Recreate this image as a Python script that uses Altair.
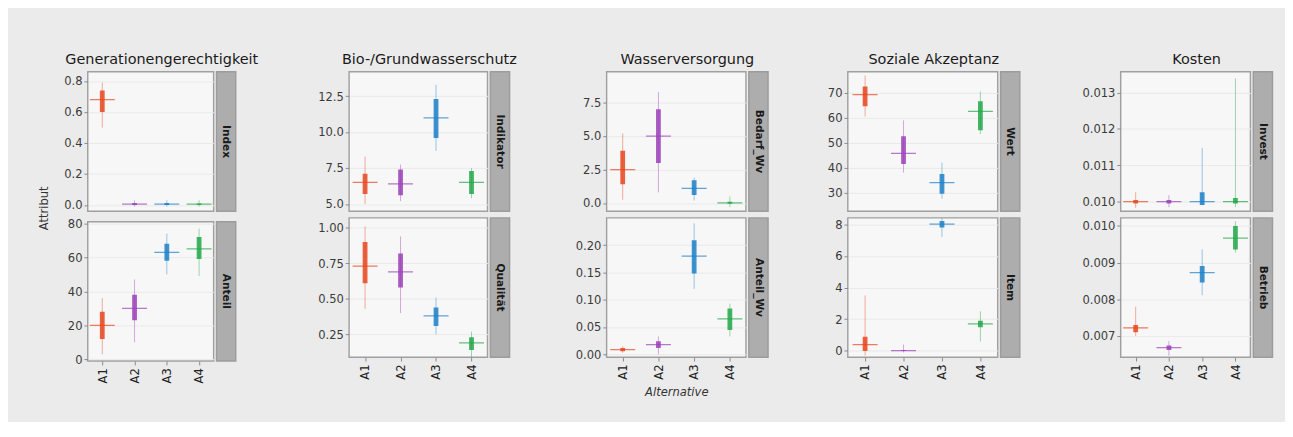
import altair as alt
import pandas as pd

FONT = "DejaVu Sans"

ALTS = ["A1", "A2", "A3", "A4"]
COLORS = ["#e8461e", "#9b40b8", "#1c80c8", "#22a84a"]
STAT_KEYS = ["lo", "q1", "mean", "q3", "hi"]

CRITERIA = ["Generationengerechtigkeit", "Bio-/Grundwasserschutz",
            "Wasserversorgung", "Soziale Akzeptanz", "Kosten"]
ROW_LABELS = [["Index", "Anteil"], ["Indikator", "Qualität"],
              ["Bedarf_Wv", "Anteil_Wv"], ["Wert", "Item"],
              ["Invest", "Betrieb"]]

# per alternative: (lo, q1, mean, q3, hi)
GEN_TOP = [(0.50, 0.60, 0.68, 0.74, 0.79), (-0.01, 0.0, 0.005, 0.012, 0.03),
           (-0.01, 0.0, 0.006, 0.012, 0.03), (-0.01, 0.0, 0.005, 0.01, 0.03)]
GEN_BOT = [(3, 12, 20, 28, 36), (10, 23, 30, 38, 47),
           (50, 58, 63, 68, 74), (49, 59, 65, 72, 77)]
BIO_TOP = [(5.0, 5.7, 6.5, 7.1, 8.3), (5.2, 5.6, 6.4, 7.4, 7.75),
           (8.7, 9.6, 11.0, 12.3, 13.3), (5.4, 5.7, 6.5, 7.3, 7.5)]
BIO_BOT = [(0.43, 0.61, 0.73, 0.90, 1.01), (0.40, 0.58, 0.69, 0.82, 0.94),
           (0.25, 0.31, 0.38, 0.44, 0.51), (0.09, 0.14, 0.19, 0.23, 0.27)]
WV_TOP = [(0.25, 1.4, 2.5, 3.9, 5.2), (0.8, 3.0, 5.0, 7.0, 8.3),
          (0.2, 0.6, 1.1, 1.7, 1.9), (-0.3, -0.05, 0.02, 0.1, 0.5)]
WV_BOT = [(0.003, 0.006, 0.009, 0.012, 0.015), (0.0, 0.012, 0.018, 0.024, 0.033),
          (0.12, 0.148, 0.18, 0.209, 0.24), (0.033, 0.045, 0.065, 0.084, 0.093)]
SA_TOP = [(60.6, 64.7, 69.3, 72.6, 77), (38, 41.5, 45.7, 52.6, 59),
          (27.5, 29.5, 34, 37.4, 42), (53.5, 55, 62.6, 66.7, 70.6)]
SA_BOT = [(-0.3, 0.0, 0.4, 0.9, 3.5), (-0.1, 0.0, 0.02, 0.05, 0.4),
          (7.2, 7.8, 8.0, 8.2, 8.8), (0.6, 1.5, 1.7, 1.9, 2.5)]
K_TOP = [(0.00983, 0.00995, 0.0100, 0.01005, 0.01026),
         (0.00985, 0.00995, 0.0100, 0.01005, 0.01018),
         (0.00990, 0.00991, 0.0100, 0.01026, 0.01148),
         (0.00985, 0.00995, 0.0100, 0.01010, 0.01339)]
K_BOT = [(0.0070, 0.0071, 0.00722, 0.0073, 0.0078),
         (0.00646, 0.00662, 0.00668, 0.00674, 0.00686),
         (0.00811, 0.00846, 0.00873, 0.00891, 0.00936),
         (0.00927, 0.00936, 0.00967, 0.0100, 0.01013)]

STATS = [[GEN_TOP, GEN_BOT], [BIO_TOP, BIO_BOT], [WV_TOP, WV_BOT],
         [SA_TOP, SA_BOT], [K_TOP, K_BOT]]

Y_DOMAINS = [[[-0.04, 0.86], [-1, 81]],
             [[4.5, 14.2], [0.09, 1.07]],
             [[-0.6, 9.8], [-0.005, 0.25]],
             [[22.5, 78.5], [-0.4, 8.4]],
             [[0.00974, 0.01357], [0.00642, 0.01022]]]
Y_TICKS = [[[0.0, 0.2, 0.4, 0.6, 0.8], [0, 20, 40, 60, 80]],
           [[5.0, 7.5, 10.0, 12.5], [0.25, 0.50, 0.75, 1.00]],
           [[0.0, 2.5, 5.0, 7.5], [0.00, 0.05, 0.10, 0.15, 0.20]],
           [[30, 40, 50, 60, 70], [0, 2, 4, 6, 8]],
           [[0.010, 0.011, 0.012, 0.013], [0.007, 0.008, 0.009, 0.010]]]
Y_FORMATS = [[".1f", "d"], [".1f", ".2f"], [".1f", ".2f"], ["d", "d"], [".3f", ".3f"]]

X_TITLE = "Alternative"
Y_TITLE = "Attribut"

PLOT_W = [131, 144, 145, 156, 135]
EXTENT = [30, 88, 87, 76, 98]
PLOT_H = 145
STRIP_W = 20


def panel(stats, domain, ticks, fmt, width, extent, bottom, xtitle):
    df = pd.DataFrame(stats, columns=STAT_KEYS)
    df["alt"] = ALTS
    base = alt.Chart(df)
    if bottom:
        xaxis = alt.Axis(labelAngle=270, labelAlign="right", labelBaseline="middle",
                         title=xtitle, titleFontStyle="italic", titleFontWeight="normal",
                         titleFontSize=12, titleColor="#333", ticks=True, tickSize=4,
                         labelPadding=3, titlePadding=8, grid=False, labelColor="#222")
    else:
        xaxis = None
    xenc = alt.X("alt:N", scale=alt.Scale(type="point", padding=0.45, domain=ALTS), axis=xaxis)
    yscale = alt.Scale(domain=domain, zero=False, nice=False)
    yaxis = alt.Axis(values=ticks, format=fmt, title=None, minExtent=extent,
                     maxExtent=extent, grid=True, tickSize=4, labelPadding=2)
    color = alt.Color("alt:N", scale=alt.Scale(domain=ALTS, range=COLORS), legend=None)
    tails = base.mark_rule(strokeWidth=1, opacity=0.45, clip=True).encode(
        x=xenc, y=alt.Y("lo:Q", scale=yscale, axis=yaxis), y2="hi:Q", color=color)
    dense = base.mark_rule(strokeWidth=5, opacity=0.85, clip=True).encode(
        x=xenc, y=alt.Y("q1:Q", scale=yscale, axis=yaxis), y2="q3:Q", color=color)
    cross = base.mark_tick(size=26, thickness=1.3, clip=True).encode(
        x=xenc, y=alt.Y("mean:Q", scale=yscale, axis=yaxis), color=color)
    return alt.layer(tails, dense, cross).properties(width=width, height=PLOT_H)


def strip(label):
    return alt.Chart(pd.DataFrame({"label": [label]})).mark_text(
        angle=90, fontSize=11, color="#1a1a1a", font=FONT, fontWeight="bold"
    ).encode(
        text="label:N", x=alt.value(STRIP_W / 2), y=alt.value(PLOT_H / 2)
    ).properties(width=STRIP_W, height=PLOT_H,
                 view=alt.ViewBackground(fill="#adadad", stroke="#9c9c9c"))


cols = []
for i, crit in enumerate(CRITERIA):
    rows = []
    for r in range(2):
        p = panel(STATS[i][r], Y_DOMAINS[i][r], Y_TICKS[i][r], Y_FORMATS[i][r],
                  PLOT_W[i], EXTENT[i], r == 1, X_TITLE if (r == 1 and i == 2) else None)
        rows.append(alt.hconcat(p, strip(ROW_LABELS[i][r]), spacing=1))
    col = alt.vconcat(*rows, spacing=5, title=alt.TitleParams(
        crit, fontSize=15, fontWeight="normal", color="#1a1a1a", anchor="middle",
        dx=EXTENT[i] / 2, offset=4, font=FONT))
    cols.append(col)

ytitle = alt.Chart(pd.DataFrame({"t": [Y_TITLE]})).mark_text(
    angle=270, fontSize=12, color="#333", font=FONT
).encode(text="t:N", x=alt.value(32), y=alt.value(142)).properties(
    width=40, height=320, view=alt.ViewBackground(fill="transparent", stroke="transparent"))

chart = alt.hconcat(ytitle, *cols, spacing=5).properties(
    background="#ebebeb",
    padding={"left": 5, "top": 38, "right": 12, "bottom": 16},
).configure_view(
    fill="#f7f7f7", stroke="#a0a0a0", strokeWidth=1.5
).configure_axis(
    labelFont=FONT, titleFont=FONT, labelFontSize=12, labelColor="#3a3a3a",
    tickColor="#888", domain=False, gridColor="#e9e9e9"
).configure_title(font=FONT)

chart.save("out.html", embed_options={"renderer": "svg", "actions": False})
